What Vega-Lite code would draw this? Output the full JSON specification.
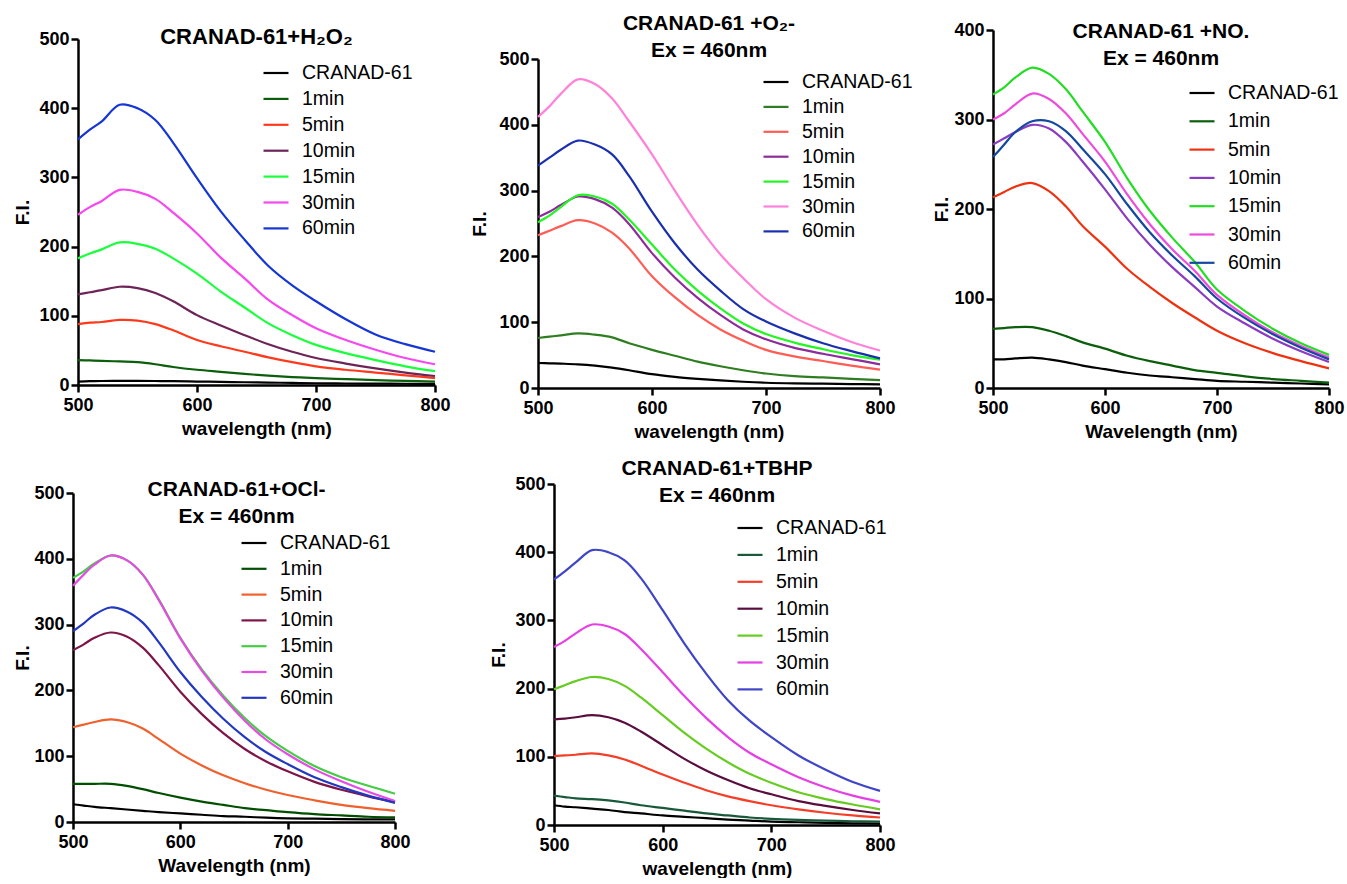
{
"$schema": "https://vega.github.io/schema/vega-lite/v6.json",
"background": "white",
"padding": {"left": 13, "top": 8, "right": 0, "bottom": 0},
"config": {
  "font": "Liberation Sans",
  "view": {"stroke": null},
  "axis": {"grid": false, "domainColor": "#000", "domainWidth": 2.5, "tickColor": "#000", "tickWidth": 2.5, "tickSize": 7, "labelFont": "Liberation Sans", "labelFontSize": 18, "labelFontWeight": "bold", "labelColor": "#000", "labelPadding": 2, "labelFlush": false, "labelOverlap": false, "titleFont": "Liberation Sans", "titleFontSize": 19, "titleFontWeight": "bold", "titleColor": "#000"},
  "axisX": {"titlePadding": 5, "labelPadding": 4},
  "axisY": {"titlePadding": 6},
  "legend": {"orient": "none", "symbolType": "stroke", "symbolStrokeWidth": 3, "symbolSize": 625, "labelFont": "Liberation Sans", "labelFontSize": 19.5, "labelColor": "#000", "labelOffset": 12, "titleFontSize": 10, "padding": 0},
  "title": {"font": "Liberation Sans", "fontSize": 21, "fontWeight": "bold", "color": "#000", "frame": "group", "anchor": "middle", "lineHeight": 27, "baseline": "alphabetic"},
  "line": {"strokeWidth": 2.2, "interpolate": "catmull-rom"}
},
"datasets": {
"h2o2": [
{"nm":500,"series":"CRANAD-61","fi":5},{"nm":510,"series":"CRANAD-61","fi":5.5},{"nm":520,"series":"CRANAD-61","fi":5.8},{"nm":535,"series":"CRANAD-61","fi":6},{"nm":550,"series":"CRANAD-61","fi":6},{"nm":565,"series":"CRANAD-61","fi":5.8},{"nm":580,"series":"CRANAD-61","fi":5.5},{"nm":600,"series":"CRANAD-61","fi":5},{"nm":620,"series":"CRANAD-61","fi":4.5},{"nm":640,"series":"CRANAD-61","fi":4},{"nm":660,"series":"CRANAD-61","fi":3.5},{"nm":680,"series":"CRANAD-61","fi":3},{"nm":700,"series":"CRANAD-61","fi":2.5},{"nm":725,"series":"CRANAD-61","fi":2.2},{"nm":750,"series":"CRANAD-61","fi":2},{"nm":775,"series":"CRANAD-61","fi":1.8},{"nm":800,"series":"CRANAD-61","fi":1.6},
{"nm":500,"series":"1min","fi":36},{"nm":510,"series":"1min","fi":35.5},{"nm":520,"series":"1min","fi":35},{"nm":535,"series":"1min","fi":34},{"nm":550,"series":"1min","fi":33},{"nm":565,"series":"1min","fi":30},{"nm":580,"series":"1min","fi":26},{"nm":600,"series":"1min","fi":22},{"nm":620,"series":"1min","fi":19},{"nm":640,"series":"1min","fi":16},{"nm":660,"series":"1min","fi":13.5},{"nm":680,"series":"1min","fi":11.5},{"nm":700,"series":"1min","fi":10},{"nm":725,"series":"1min","fi":8.5},{"nm":750,"series":"1min","fi":7},{"nm":775,"series":"1min","fi":6},{"nm":800,"series":"1min","fi":5},
{"nm":500,"series":"5min","fi":88},{"nm":510,"series":"5min","fi":90},{"nm":520,"series":"5min","fi":91},{"nm":535,"series":"5min","fi":94},{"nm":550,"series":"5min","fi":93},{"nm":565,"series":"5min","fi":88},{"nm":580,"series":"5min","fi":79},{"nm":600,"series":"5min","fi":65},{"nm":620,"series":"5min","fi":56},{"nm":640,"series":"5min","fi":48},{"nm":660,"series":"5min","fi":40},{"nm":680,"series":"5min","fi":33},{"nm":700,"series":"5min","fi":27},{"nm":725,"series":"5min","fi":22},{"nm":750,"series":"5min","fi":18},{"nm":775,"series":"5min","fi":14},{"nm":800,"series":"5min","fi":10},
{"nm":500,"series":"10min","fi":131},{"nm":510,"series":"10min","fi":134},{"nm":520,"series":"10min","fi":137},{"nm":535,"series":"10min","fi":142},{"nm":550,"series":"10min","fi":140},{"nm":565,"series":"10min","fi":133},{"nm":580,"series":"10min","fi":121},{"nm":600,"series":"10min","fi":101},{"nm":620,"series":"10min","fi":86},{"nm":640,"series":"10min","fi":72},{"nm":660,"series":"10min","fi":59},{"nm":680,"series":"10min","fi":48},{"nm":700,"series":"10min","fi":39},{"nm":725,"series":"10min","fi":31},{"nm":750,"series":"10min","fi":24},{"nm":775,"series":"10min","fi":18},{"nm":800,"series":"10min","fi":13},
{"nm":500,"series":"15min","fi":183},{"nm":510,"series":"15min","fi":190},{"nm":520,"series":"15min","fi":196},{"nm":535,"series":"15min","fi":206},{"nm":550,"series":"15min","fi":204},{"nm":565,"series":"15min","fi":197},{"nm":580,"series":"15min","fi":183},{"nm":600,"series":"15min","fi":161},{"nm":620,"series":"15min","fi":135},{"nm":640,"series":"15min","fi":112},{"nm":660,"series":"15min","fi":89},{"nm":680,"series":"15min","fi":72},{"nm":700,"series":"15min","fi":58},{"nm":725,"series":"15min","fi":46},{"nm":750,"series":"15min","fi":36},{"nm":775,"series":"15min","fi":27},{"nm":800,"series":"15min","fi":20},
{"nm":500,"series":"30min","fi":246},{"nm":510,"series":"30min","fi":257},{"nm":520,"series":"30min","fi":266},{"nm":535,"series":"30min","fi":282},{"nm":550,"series":"30min","fi":279},{"nm":565,"series":"30min","fi":269},{"nm":580,"series":"30min","fi":249},{"nm":600,"series":"30min","fi":219},{"nm":620,"series":"30min","fi":184},{"nm":640,"series":"30min","fi":154},{"nm":660,"series":"30min","fi":123},{"nm":680,"series":"30min","fi":101},{"nm":700,"series":"30min","fi":82},{"nm":725,"series":"30min","fi":65},{"nm":750,"series":"30min","fi":51},{"nm":775,"series":"30min","fi":39},{"nm":800,"series":"30min","fi":30},
{"nm":500,"series":"60min","fi":355},{"nm":510,"series":"60min","fi":369},{"nm":520,"series":"60min","fi":381},{"nm":535,"series":"60min","fi":405},{"nm":550,"series":"60min","fi":400},{"nm":565,"series":"60min","fi":383},{"nm":580,"series":"60min","fi":350},{"nm":600,"series":"60min","fi":299},{"nm":620,"series":"60min","fi":251},{"nm":640,"series":"60min","fi":210},{"nm":660,"series":"60min","fi":172},{"nm":680,"series":"60min","fi":144},{"nm":700,"series":"60min","fi":121},{"nm":725,"series":"60min","fi":95},{"nm":750,"series":"60min","fi":73},{"nm":775,"series":"60min","fi":59},{"nm":800,"series":"60min","fi":48}
],
"o2": [
{"nm":500,"series":"CRANAD-61","fi":38},{"nm":510,"series":"CRANAD-61","fi":37.5},{"nm":520,"series":"CRANAD-61","fi":37},{"nm":535,"series":"CRANAD-61","fi":36},{"nm":550,"series":"CRANAD-61","fi":34},{"nm":565,"series":"CRANAD-61","fi":31},{"nm":580,"series":"CRANAD-61","fi":27},{"nm":600,"series":"CRANAD-61","fi":21},{"nm":620,"series":"CRANAD-61","fi":17},{"nm":640,"series":"CRANAD-61","fi":14},{"nm":660,"series":"CRANAD-61","fi":11.5},{"nm":680,"series":"CRANAD-61","fi":9.5},{"nm":700,"series":"CRANAD-61","fi":8},{"nm":725,"series":"CRANAD-61","fi":7},{"nm":750,"series":"CRANAD-61","fi":6.5},{"nm":775,"series":"CRANAD-61","fi":6},{"nm":800,"series":"CRANAD-61","fi":5.5},
{"nm":500,"series":"1min","fi":76},{"nm":510,"series":"1min","fi":78},{"nm":520,"series":"1min","fi":80},{"nm":535,"series":"1min","fi":83},{"nm":550,"series":"1min","fi":81},{"nm":565,"series":"1min","fi":77},{"nm":580,"series":"1min","fi":68},{"nm":600,"series":"1min","fi":58},{"nm":620,"series":"1min","fi":49},{"nm":640,"series":"1min","fi":40},{"nm":660,"series":"1min","fi":33},{"nm":680,"series":"1min","fi":27},{"nm":700,"series":"1min","fi":22},{"nm":725,"series":"1min","fi":18},{"nm":750,"series":"1min","fi":16},{"nm":775,"series":"1min","fi":14},{"nm":800,"series":"1min","fi":12},
{"nm":500,"series":"5min","fi":232},{"nm":510,"series":"5min","fi":239},{"nm":520,"series":"5min","fi":246},{"nm":535,"series":"5min","fi":255},{"nm":550,"series":"5min","fi":250},{"nm":565,"series":"5min","fi":236},{"nm":580,"series":"5min","fi":212},{"nm":600,"series":"5min","fi":170},{"nm":620,"series":"5min","fi":138},{"nm":640,"series":"5min","fi":111},{"nm":660,"series":"5min","fi":89},{"nm":680,"series":"5min","fi":72},{"nm":700,"series":"5min","fi":58},{"nm":725,"series":"5min","fi":48},{"nm":750,"series":"5min","fi":41},{"nm":775,"series":"5min","fi":34},{"nm":800,"series":"5min","fi":28},
{"nm":500,"series":"10min","fi":260},{"nm":510,"series":"10min","fi":268},{"nm":520,"series":"10min","fi":278},{"nm":535,"series":"10min","fi":291},{"nm":550,"series":"10min","fi":287},{"nm":565,"series":"10min","fi":274},{"nm":580,"series":"10min","fi":249},{"nm":600,"series":"10min","fi":205},{"nm":620,"series":"10min","fi":168},{"nm":640,"series":"10min","fi":137},{"nm":660,"series":"10min","fi":111},{"nm":680,"series":"10min","fi":89},{"nm":700,"series":"10min","fi":74},{"nm":725,"series":"10min","fi":61},{"nm":750,"series":"10min","fi":52},{"nm":775,"series":"10min","fi":44},{"nm":800,"series":"10min","fi":36},
{"nm":500,"series":"15min","fi":252},{"nm":510,"series":"15min","fi":262},{"nm":520,"series":"15min","fi":275},{"nm":535,"series":"15min","fi":293},{"nm":550,"series":"15min","fi":291},{"nm":565,"series":"15min","fi":280},{"nm":580,"series":"15min","fi":256},{"nm":600,"series":"15min","fi":218},{"nm":620,"series":"15min","fi":180},{"nm":640,"series":"15min","fi":148},{"nm":660,"series":"15min","fi":121},{"nm":680,"series":"15min","fi":98},{"nm":700,"series":"15min","fi":82},{"nm":725,"series":"15min","fi":69},{"nm":750,"series":"15min","fi":59},{"nm":775,"series":"15min","fi":50},{"nm":800,"series":"15min","fi":43},
{"nm":500,"series":"30min","fi":412},{"nm":510,"series":"30min","fi":428},{"nm":520,"series":"30min","fi":447},{"nm":535,"series":"30min","fi":469},{"nm":550,"series":"30min","fi":462},{"nm":565,"series":"30min","fi":440},{"nm":580,"series":"30min","fi":405},{"nm":600,"series":"30min","fi":355},{"nm":620,"series":"30min","fi":300},{"nm":640,"series":"30min","fi":248},{"nm":660,"series":"30min","fi":203},{"nm":680,"series":"30min","fi":167},{"nm":700,"series":"30min","fi":135},{"nm":725,"series":"30min","fi":107},{"nm":750,"series":"30min","fi":87},{"nm":775,"series":"30min","fi":70},{"nm":800,"series":"30min","fi":57},
{"nm":500,"series":"60min","fi":338},{"nm":510,"series":"60min","fi":350},{"nm":520,"series":"60min","fi":362},{"nm":535,"series":"60min","fi":376},{"nm":550,"series":"60min","fi":370},{"nm":565,"series":"60min","fi":355},{"nm":580,"series":"60min","fi":322},{"nm":600,"series":"60min","fi":268},{"nm":620,"series":"60min","fi":220},{"nm":640,"series":"60min","fi":180},{"nm":660,"series":"60min","fi":148},{"nm":680,"series":"60min","fi":120},{"nm":700,"series":"60min","fi":101},{"nm":725,"series":"60min","fi":83},{"nm":750,"series":"60min","fi":68},{"nm":775,"series":"60min","fi":56},{"nm":800,"series":"60min","fi":45}
],
"no": [
{"nm":500,"series":"CRANAD-61","fi":32},{"nm":510,"series":"CRANAD-61","fi":32},{"nm":520,"series":"CRANAD-61","fi":33},{"nm":535,"series":"CRANAD-61","fi":34},{"nm":550,"series":"CRANAD-61","fi":32},{"nm":565,"series":"CRANAD-61","fi":29},{"nm":580,"series":"CRANAD-61","fi":25},{"nm":600,"series":"CRANAD-61","fi":21},{"nm":620,"series":"CRANAD-61","fi":17},{"nm":640,"series":"CRANAD-61","fi":14},{"nm":660,"series":"CRANAD-61","fi":12},{"nm":680,"series":"CRANAD-61","fi":10},{"nm":700,"series":"CRANAD-61","fi":8},{"nm":725,"series":"CRANAD-61","fi":7},{"nm":750,"series":"CRANAD-61","fi":6},{"nm":775,"series":"CRANAD-61","fi":5},{"nm":800,"series":"CRANAD-61","fi":4},
{"nm":500,"series":"1min","fi":66},{"nm":510,"series":"1min","fi":67},{"nm":520,"series":"1min","fi":68},{"nm":535,"series":"1min","fi":68},{"nm":550,"series":"1min","fi":64},{"nm":565,"series":"1min","fi":58},{"nm":580,"series":"1min","fi":51},{"nm":600,"series":"1min","fi":44},{"nm":620,"series":"1min","fi":36},{"nm":640,"series":"1min","fi":30},{"nm":660,"series":"1min","fi":25},{"nm":680,"series":"1min","fi":20},{"nm":700,"series":"1min","fi":17},{"nm":725,"series":"1min","fi":13},{"nm":750,"series":"1min","fi":10},{"nm":775,"series":"1min","fi":8},{"nm":800,"series":"1min","fi":6},
{"nm":500,"series":"5min","fi":213},{"nm":510,"series":"5min","fi":219},{"nm":520,"series":"5min","fi":225},{"nm":535,"series":"5min","fi":229},{"nm":550,"series":"5min","fi":220},{"nm":565,"series":"5min","fi":203},{"nm":580,"series":"5min","fi":181},{"nm":600,"series":"5min","fi":158},{"nm":620,"series":"5min","fi":133},{"nm":640,"series":"5min","fi":113},{"nm":660,"series":"5min","fi":95},{"nm":680,"series":"5min","fi":79},{"nm":700,"series":"5min","fi":64},{"nm":725,"series":"5min","fi":50},{"nm":750,"series":"5min","fi":39},{"nm":775,"series":"5min","fi":30},{"nm":800,"series":"5min","fi":22},
{"nm":500,"series":"10min","fi":272},{"nm":510,"series":"10min","fi":279},{"nm":520,"series":"10min","fi":286},{"nm":535,"series":"10min","fi":294},{"nm":550,"series":"10min","fi":290},{"nm":565,"series":"10min","fi":275},{"nm":580,"series":"10min","fi":253},{"nm":600,"series":"10min","fi":222},{"nm":620,"series":"10min","fi":189},{"nm":640,"series":"10min","fi":160},{"nm":660,"series":"10min","fi":135},{"nm":680,"series":"10min","fi":113},{"nm":700,"series":"10min","fi":91},{"nm":725,"series":"10min","fi":72},{"nm":750,"series":"10min","fi":55},{"nm":775,"series":"10min","fi":41},{"nm":800,"series":"10min","fi":29},
{"nm":500,"series":"15min","fi":328},{"nm":510,"series":"15min","fi":336},{"nm":520,"series":"15min","fi":347},{"nm":535,"series":"15min","fi":358},{"nm":550,"series":"15min","fi":351},{"nm":565,"series":"15min","fi":334},{"nm":580,"series":"15min","fi":309},{"nm":600,"series":"15min","fi":275},{"nm":620,"series":"15min","fi":234},{"nm":640,"series":"15min","fi":198},{"nm":660,"series":"15min","fi":168},{"nm":680,"series":"15min","fi":141},{"nm":700,"series":"15min","fi":110},{"nm":725,"series":"15min","fi":86},{"nm":750,"series":"15min","fi":66},{"nm":775,"series":"15min","fi":50},{"nm":800,"series":"15min","fi":37},
{"nm":500,"series":"30min","fi":300},{"nm":510,"series":"30min","fi":307},{"nm":520,"series":"30min","fi":317},{"nm":535,"series":"30min","fi":329},{"nm":550,"series":"30min","fi":323},{"nm":565,"series":"30min","fi":307},{"nm":580,"series":"30min","fi":284},{"nm":600,"series":"30min","fi":253},{"nm":620,"series":"30min","fi":216},{"nm":640,"series":"30min","fi":183},{"nm":660,"series":"30min","fi":155},{"nm":680,"series":"30min","fi":131},{"nm":700,"series":"30min","fi":104},{"nm":725,"series":"30min","fi":81},{"nm":750,"series":"30min","fi":62},{"nm":775,"series":"30min","fi":47},{"nm":800,"series":"30min","fi":34},
{"nm":500,"series":"60min","fi":258},{"nm":510,"series":"60min","fi":272},{"nm":520,"series":"60min","fi":286},{"nm":535,"series":"60min","fi":298},{"nm":550,"series":"60min","fi":298},{"nm":565,"series":"60min","fi":287},{"nm":580,"series":"60min","fi":267},{"nm":600,"series":"60min","fi":239},{"nm":620,"series":"60min","fi":205},{"nm":640,"series":"60min","fi":174},{"nm":660,"series":"60min","fi":148},{"nm":680,"series":"60min","fi":125},{"nm":700,"series":"60min","fi":100},{"nm":725,"series":"60min","fi":78},{"nm":750,"series":"60min","fi":60},{"nm":775,"series":"60min","fi":45},{"nm":800,"series":"60min","fi":32}
],
"ocl": [
{"nm":500,"series":"CRANAD-61","fi":27},{"nm":510,"series":"CRANAD-61","fi":25},{"nm":520,"series":"CRANAD-61","fi":23},{"nm":535,"series":"CRANAD-61","fi":21},{"nm":550,"series":"CRANAD-61","fi":19},{"nm":565,"series":"CRANAD-61","fi":17},{"nm":580,"series":"CRANAD-61","fi":15},{"nm":600,"series":"CRANAD-61","fi":13},{"nm":620,"series":"CRANAD-61","fi":11},{"nm":640,"series":"CRANAD-61","fi":9},{"nm":660,"series":"CRANAD-61","fi":8},{"nm":680,"series":"CRANAD-61","fi":6.5},{"nm":700,"series":"CRANAD-61","fi":5.5},{"nm":725,"series":"CRANAD-61","fi":5},{"nm":750,"series":"CRANAD-61","fi":4.5},{"nm":775,"series":"CRANAD-61","fi":4},{"nm":800,"series":"CRANAD-61","fi":4},
{"nm":500,"series":"1min","fi":58},{"nm":510,"series":"1min","fi":58},{"nm":520,"series":"1min","fi":58},{"nm":535,"series":"1min","fi":58},{"nm":550,"series":"1min","fi":55},{"nm":565,"series":"1min","fi":50},{"nm":580,"series":"1min","fi":44},{"nm":600,"series":"1min","fi":37},{"nm":620,"series":"1min","fi":31},{"nm":640,"series":"1min","fi":26},{"nm":660,"series":"1min","fi":21},{"nm":680,"series":"1min","fi":18},{"nm":700,"series":"1min","fi":15},{"nm":725,"series":"1min","fi":12},{"nm":750,"series":"1min","fi":10},{"nm":775,"series":"1min","fi":8},{"nm":800,"series":"1min","fi":7},
{"nm":500,"series":"5min","fi":144},{"nm":510,"series":"5min","fi":148},{"nm":520,"series":"5min","fi":152},{"nm":535,"series":"5min","fi":156},{"nm":550,"series":"5min","fi":152},{"nm":565,"series":"5min","fi":142},{"nm":580,"series":"5min","fi":126},{"nm":600,"series":"5min","fi":104},{"nm":620,"series":"5min","fi":86},{"nm":640,"series":"5min","fi":71},{"nm":660,"series":"5min","fi":59},{"nm":680,"series":"5min","fi":49},{"nm":700,"series":"5min","fi":41},{"nm":725,"series":"5min","fi":33},{"nm":750,"series":"5min","fi":26},{"nm":775,"series":"5min","fi":21},{"nm":800,"series":"5min","fi":17},
{"nm":500,"series":"10min","fi":261},{"nm":510,"series":"10min","fi":270},{"nm":520,"series":"10min","fi":280},{"nm":535,"series":"10min","fi":288},{"nm":550,"series":"10min","fi":282},{"nm":565,"series":"10min","fi":265},{"nm":580,"series":"10min","fi":238},{"nm":600,"series":"10min","fi":198},{"nm":620,"series":"10min","fi":164},{"nm":640,"series":"10min","fi":135},{"nm":660,"series":"10min","fi":111},{"nm":680,"series":"10min","fi":92},{"nm":700,"series":"10min","fi":77},{"nm":725,"series":"10min","fi":61},{"nm":750,"series":"10min","fi":49},{"nm":775,"series":"10min","fi":39},{"nm":800,"series":"10min","fi":30},
{"nm":500,"series":"15min","fi":371},{"nm":510,"series":"15min","fi":381},{"nm":520,"series":"15min","fi":393},{"nm":535,"series":"15min","fi":405},{"nm":550,"series":"15min","fi":398},{"nm":565,"series":"15min","fi":376},{"nm":580,"series":"15min","fi":338},{"nm":600,"series":"15min","fi":280},{"nm":620,"series":"15min","fi":232},{"nm":640,"series":"15min","fi":192},{"nm":660,"series":"15min","fi":158},{"nm":680,"series":"15min","fi":130},{"nm":700,"series":"15min","fi":108},{"nm":725,"series":"15min","fi":85},{"nm":750,"series":"15min","fi":68},{"nm":775,"series":"15min","fi":55},{"nm":800,"series":"15min","fi":43},
{"nm":500,"series":"30min","fi":359},{"nm":510,"series":"30min","fi":376},{"nm":520,"series":"30min","fi":391},{"nm":535,"series":"30min","fi":405},{"nm":550,"series":"30min","fi":398},{"nm":565,"series":"30min","fi":376},{"nm":580,"series":"30min","fi":337},{"nm":600,"series":"30min","fi":279},{"nm":620,"series":"30min","fi":230},{"nm":640,"series":"30min","fi":189},{"nm":660,"series":"30min","fi":154},{"nm":680,"series":"30min","fi":125},{"nm":700,"series":"30min","fi":103},{"nm":725,"series":"30min","fi":80},{"nm":750,"series":"30min","fi":62},{"nm":775,"series":"30min","fi":46},{"nm":800,"series":"30min","fi":32},
{"nm":500,"series":"60min","fi":290},{"nm":510,"series":"60min","fi":302},{"nm":520,"series":"60min","fi":315},{"nm":535,"series":"60min","fi":326},{"nm":550,"series":"60min","fi":320},{"nm":565,"series":"60min","fi":303},{"nm":580,"series":"60min","fi":273},{"nm":600,"series":"60min","fi":228},{"nm":620,"series":"60min","fi":190},{"nm":640,"series":"60min","fi":157},{"nm":660,"series":"60min","fi":129},{"nm":680,"series":"60min","fi":106},{"nm":700,"series":"60min","fi":88},{"nm":725,"series":"60min","fi":68},{"nm":750,"series":"60min","fi":53},{"nm":775,"series":"60min","fi":40},{"nm":800,"series":"60min","fi":29}
],
"tbhp": [
{"nm":500,"series":"CRANAD-61","fi":29},{"nm":510,"series":"CRANAD-61","fi":27},{"nm":520,"series":"CRANAD-61","fi":26},{"nm":535,"series":"CRANAD-61","fi":24},{"nm":550,"series":"CRANAD-61","fi":22},{"nm":565,"series":"CRANAD-61","fi":19},{"nm":580,"series":"CRANAD-61","fi":17},{"nm":600,"series":"CRANAD-61","fi":14},{"nm":620,"series":"CRANAD-61","fi":12},{"nm":640,"series":"CRANAD-61","fi":10},{"nm":660,"series":"CRANAD-61","fi":8},{"nm":680,"series":"CRANAD-61","fi":6.5},{"nm":700,"series":"CRANAD-61","fi":5},{"nm":725,"series":"CRANAD-61","fi":4},{"nm":750,"series":"CRANAD-61","fi":3},{"nm":775,"series":"CRANAD-61","fi":2.5},{"nm":800,"series":"CRANAD-61","fi":2},
{"nm":500,"series":"1min","fi":43},{"nm":510,"series":"1min","fi":41},{"nm":520,"series":"1min","fi":39},{"nm":535,"series":"1min","fi":38},{"nm":550,"series":"1min","fi":36},{"nm":565,"series":"1min","fi":33},{"nm":580,"series":"1min","fi":29},{"nm":600,"series":"1min","fi":25},{"nm":620,"series":"1min","fi":21},{"nm":640,"series":"1min","fi":17},{"nm":660,"series":"1min","fi":14},{"nm":680,"series":"1min","fi":11},{"nm":700,"series":"1min","fi":9},{"nm":725,"series":"1min","fi":7.5},{"nm":750,"series":"1min","fi":6.5},{"nm":775,"series":"1min","fi":5.5},{"nm":800,"series":"1min","fi":5},
{"nm":500,"series":"5min","fi":101},{"nm":510,"series":"5min","fi":102},{"nm":520,"series":"5min","fi":103},{"nm":535,"series":"5min","fi":105},{"nm":550,"series":"5min","fi":102},{"nm":565,"series":"5min","fi":96},{"nm":580,"series":"5min","fi":87},{"nm":600,"series":"5min","fi":74},{"nm":620,"series":"5min","fi":62},{"nm":640,"series":"5min","fi":51},{"nm":660,"series":"5min","fi":42},{"nm":680,"series":"5min","fi":35},{"nm":700,"series":"5min","fi":29},{"nm":725,"series":"5min","fi":23},{"nm":750,"series":"5min","fi":18},{"nm":775,"series":"5min","fi":14},{"nm":800,"series":"5min","fi":11},
{"nm":500,"series":"10min","fi":155},{"nm":510,"series":"10min","fi":156},{"nm":520,"series":"10min","fi":158},{"nm":535,"series":"10min","fi":161},{"nm":550,"series":"10min","fi":158},{"nm":565,"series":"10min","fi":150},{"nm":580,"series":"10min","fi":137},{"nm":600,"series":"10min","fi":117},{"nm":620,"series":"10min","fi":97},{"nm":640,"series":"10min","fi":80},{"nm":660,"series":"10min","fi":66},{"nm":680,"series":"10min","fi":54},{"nm":700,"series":"10min","fi":45},{"nm":725,"series":"10min","fi":35},{"nm":750,"series":"10min","fi":28},{"nm":775,"series":"10min","fi":22},{"nm":800,"series":"10min","fi":17},
{"nm":500,"series":"15min","fi":199},{"nm":510,"series":"15min","fi":205},{"nm":520,"series":"15min","fi":211},{"nm":535,"series":"15min","fi":217},{"nm":550,"series":"15min","fi":214},{"nm":565,"series":"15min","fi":204},{"nm":580,"series":"15min","fi":187},{"nm":600,"series":"15min","fi":161},{"nm":620,"series":"15min","fi":135},{"nm":640,"series":"15min","fi":112},{"nm":660,"series":"15min","fi":92},{"nm":680,"series":"15min","fi":75},{"nm":700,"series":"15min","fi":62},{"nm":725,"series":"15min","fi":48},{"nm":750,"series":"15min","fi":38},{"nm":775,"series":"15min","fi":30},{"nm":800,"series":"15min","fi":23},
{"nm":500,"series":"30min","fi":261},{"nm":510,"series":"30min","fi":270},{"nm":520,"series":"30min","fi":281},{"nm":535,"series":"30min","fi":294},{"nm":550,"series":"30min","fi":291},{"nm":565,"series":"30min","fi":280},{"nm":580,"series":"30min","fi":258},{"nm":600,"series":"30min","fi":224},{"nm":620,"series":"30min","fi":189},{"nm":640,"series":"30min","fi":157},{"nm":660,"series":"30min","fi":129},{"nm":680,"series":"30min","fi":106},{"nm":700,"series":"30min","fi":89},{"nm":725,"series":"30min","fi":70},{"nm":750,"series":"30min","fi":55},{"nm":775,"series":"30min","fi":43},{"nm":800,"series":"30min","fi":34},
{"nm":500,"series":"60min","fi":360},{"nm":510,"series":"60min","fi":372},{"nm":520,"series":"60min","fi":385},{"nm":535,"series":"60min","fi":403},{"nm":550,"series":"60min","fi":400},{"nm":565,"series":"60min","fi":388},{"nm":580,"series":"60min","fi":362},{"nm":600,"series":"60min","fi":315},{"nm":620,"series":"60min","fi":266},{"nm":640,"series":"60min","fi":222},{"nm":660,"series":"60min","fi":183},{"nm":680,"series":"60min","fi":153},{"nm":700,"series":"60min","fi":129},{"nm":725,"series":"60min","fi":102},{"nm":750,"series":"60min","fi":81},{"nm":775,"series":"60min","fi":63},{"nm":800,"series":"60min","fi":50}
]
},
"resolve": {"scale": {"color": "independent", "x": "independent", "y": "independent"}, "legend": {"color": "independent"}, "axis": {"x": "independent", "y": "independent"}},
"spacing": 13,
"vconcat": [
{
"columns": 3,
"align": "none",
"spacing": 19,
"resolve": {"scale": {"color": "independent", "x": "independent", "y": "independent"}, "legend": {"color": "independent"}, "axis": {"x": "independent", "y": "independent"}},
"concat": [
{
"width": 357, "height": 355,
"data": {"name": "h2o2"},
"title": {"text": "CRANAD-61+H₂O₂", "offset": -40.7, "fontSize": 22},
"mark": {"type": "line"},
"encoding": {
"x": {"field": "nm", "type": "quantitative", "scale": {"domain": [500, 800], "nice": false, "zero": false}, "axis": {"title": "wavelength (nm)", "values": [500, 600, 700, 800]}},
"y": {"field": "fi", "type": "quantitative", "scale": {"domain": [0, 500], "nice": false, "range": [355, 9]}, "axis": {"title": "F.I.", "values": [0, 100, 200, 300, 400, 500]}},
"color": {"field": "series", "type": "nominal", "scale": {"domain": ["CRANAD-61", "1min", "5min", "10min", "15min", "30min", "60min"], "range": ["#000000", "#0b5e0b", "#ff3a1c", "#6d2457", "#19ff3c", "#f548ef", "#1535d5"]}, "legend": {"title": " ", "legendX": 184, "legendY": -22, "titlePadding": 41, "rowPadding": 1.9}}
}
},
{
"width": 342, "height": 358,
"data": {"name": "o2"},
"title": {"text": ["CRANAD-61 +O₂-", "Ex = 460nm"], "offset": -53},
"mark": {"type": "line"},
"encoding": {
"x": {"field": "nm", "type": "quantitative", "scale": {"domain": [500, 800], "nice": false, "zero": false}, "axis": {"title": "wavelength (nm)", "values": [500, 600, 700, 800]}},
"y": {"field": "fi", "type": "quantitative", "scale": {"domain": [0, 500], "nice": false, "range": [358, 29]}, "axis": {"title": "F.I.", "titlePadding": 9, "values": [0, 100, 200, 300, 400, 500]}},
"color": {"field": "series", "type": "nominal", "scale": {"domain": ["CRANAD-61", "1min", "5min", "10min", "15min", "30min", "60min"], "range": ["#000000", "#2e7d20", "#ff5c55", "#8e2b9b", "#22f522", "#ff82da", "#1a2fae"]}, "legend": {"title": " ", "legendX": 224, "legendY": -22, "titlePadding": 50, "rowPadding": 0.9}}
}
},
{
"width": 336, "height": 358,
"data": {"name": "no"},
"title": {"text": ["CRANAD-61 +NO.", "Ex = 460nm"], "offset": -61},
"mark": {"type": "line"},
"encoding": {
"x": {"field": "nm", "type": "quantitative", "scale": {"domain": [500, 800], "nice": false, "zero": false}, "axis": {"title": "Wavelength (nm)", "values": [500, 600, 700, 800]}},
"y": {"field": "fi", "type": "quantitative", "scale": {"domain": [0, 400], "nice": false}, "axis": {"title": "F.I.", "titlePadding": 2.5, "values": [0, 100, 200, 300, 400]}},
"color": {"field": "series", "type": "nominal", "scale": {"domain": ["CRANAD-61", "1min", "5min", "10min", "15min", "30min", "60min"], "range": ["#000000", "#0b5e0b", "#ee3210", "#8a3cc0", "#22dd22", "#ee4bdd", "#1448a0"]}, "legend": {"title": " ", "legendX": 195, "legendY": -22, "titlePadding": 61, "rowPadding": 4.3}}
}
}
]
},
{
"columns": 2,
"align": "none",
"spacing": 78,
"resolve": {"scale": {"color": "independent", "x": "independent", "y": "independent"}, "legend": {"color": "independent"}, "axis": {"x": "independent", "y": "independent"}},
"concat": [
{
"width": 317, "height": 338,
"data": {"name": "ocl"},
"title": {"text": ["CRANAD-61+OCl-", "Ex = 460nm"], "offset": -72.7},
"mark": {"type": "line"},
"encoding": {
"x": {"field": "nm", "type": "quantitative", "scale": {"domain": [500, 800], "nice": false, "zero": false, "range": [-5, 317]}, "axis": {"title": "Wavelength (nm)", "values": [500, 600, 700, 800]}},
"y": {"field": "fi", "type": "quantitative", "scale": {"domain": [0, 500], "nice": false, "range": [338, 9]}, "axis": {"title": "F.I.", "titlePadding": 1, "offset": 5, "values": [0, 100, 200, 300, 400, 500]}},
"color": {"field": "series", "type": "nominal", "scale": {"domain": ["CRANAD-61", "1min", "5min", "10min", "15min", "30min", "60min"], "range": ["#000000", "#004f00", "#f0602d", "#7e1548", "#44cc44", "#e64be6", "#2338c0"]}, "legend": {"title": " ", "legendX": 162, "legendY": -30, "titlePadding": 65, "rowPadding": 1.8}}
}
},
{
"width": 326, "height": 341,
"data": {"name": "tbhp"},
"title": {"text": ["CRANAD-61+TBHP", "Ex = 460nm"], "offset": -52},
"mark": {"type": "line"},
"encoding": {
"x": {"field": "nm", "type": "quantitative", "scale": {"domain": [500, 800], "nice": false, "zero": false}, "axis": {"title": "wavelength (nm)", "values": [500, 600, 700, 800]}},
"y": {"field": "fi", "type": "quantitative", "scale": {"domain": [0, 500], "nice": false}, "axis": {"title": "F.I.", "values": [0, 100, 200, 300, 400, 500]}},
"color": {"field": "series", "type": "nominal", "scale": {"domain": ["CRANAD-61", "1min", "5min", "10min", "15min", "30min", "60min"], "range": ["#000000", "#17593a", "#f43e28", "#5a0e3e", "#66cc22", "#e53fe5", "#3f45c8"]}, "legend": {"title": " ", "legendX": 182, "legendY": -30, "titlePadding": 50, "rowPadding": 2.9}}
}
}
]
}
]
}
